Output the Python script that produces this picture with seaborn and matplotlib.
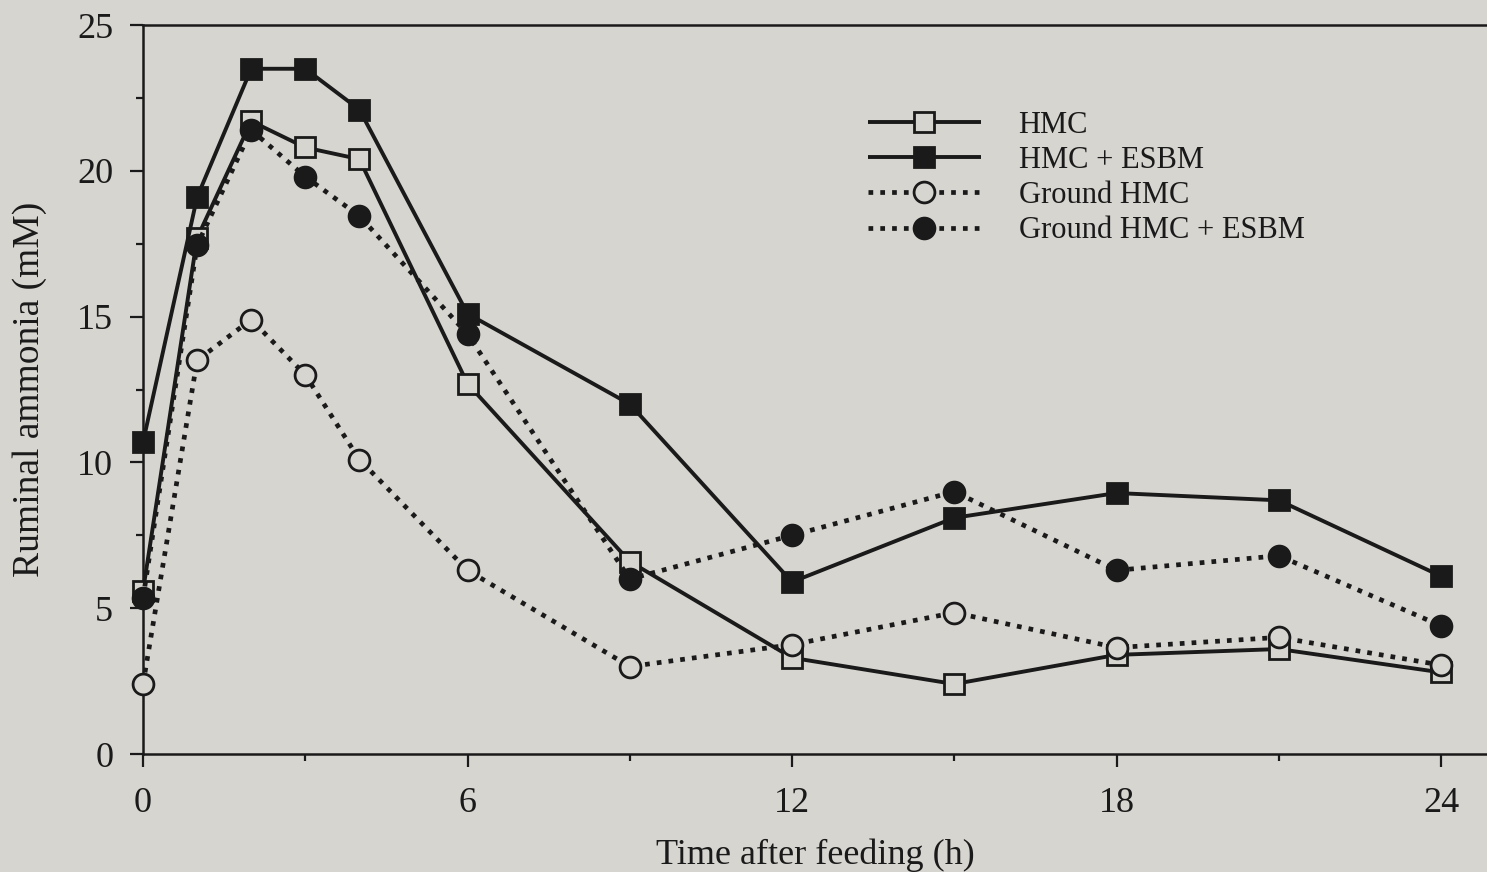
import matplotlib
matplotlib.use("Agg")
import matplotlib.pyplot as plt
import seaborn as sns
import pandas as pd
from matplotlib.ticker import MultipleLocator

# Sampling times (h after feeding)
hours = [0, 1, 2, 3, 4, 6, 9, 12, 15, 18, 21, 24]

# Ruminal ammonia concentrations (mM)
hmc = [5.6, 17.7, 21.7, 20.8, 20.4, 12.7, 6.6, 3.3, 2.4, 3.4, 3.6, 2.8]
hmc_esbm = [10.7, 19.1, 23.5, 23.5, 22.1, 15.1, 12.0, 5.9, 8.1, 8.95, 8.7, 6.1]
ground_hmc = [2.4, 13.5, 14.9, 13.0, 10.1, 6.3, 3.0, 3.75, 4.85, 3.65, 4.0, 3.05]
ground_hmc_esbm = [5.35, 17.45, 21.4, 19.8, 18.45, 14.4, 6.0, 7.5, 9.0, 6.3, 6.8, 4.4]

labels = ["HMC", "HMC + ESBM", "Ground HMC", "Ground HMC + ESBM"]
x_ticks = [0, 6, 12, 18, 24]
y_ticks = [0, 5, 10, 15, 20, 25]

BG = "#d7d5d0"
INK = "#1a1a1a"

sns.set_theme(style="ticks")
plt.rcParams["font.family"] = ["Liberation Serif", "DejaVu Serif"]

df = pd.DataFrame({
    "hours": hours * 4,
    "ammonia": hmc + hmc_esbm + ground_hmc + ground_hmc_esbm,
    "treatment": sum([[lab] * len(hours) for lab in labels], []),
})

fig = plt.figure(figsize=(14.87, 8.72), dpi=100, facecolor=BG)
ax = fig.add_axes([0.0962, 0.1353, 0.9038, 0.836], facecolor=BG)

dotted = (0, (1.0, 1.5))
styles = {
    "HMC": dict(marker="s", face=BG, ls="-", lw=2.8),
    "HMC + ESBM": dict(marker="s", face=INK, ls="-", lw=2.8),
    "Ground HMC": dict(marker="o", face=BG, ls=dotted, lw=3.4),
    "Ground HMC + ESBM": dict(marker="o", face=INK, ls=dotted, lw=3.4),
}

for lab in labels:
    sub = df[df["treatment"] == lab]
    st = styles[lab]
    sns.lineplot(
        data=sub, x="hours", y="ammonia", ax=ax, label=lab,
        color=INK, linewidth=st["lw"], marker=st["marker"],
        markersize=14 if st["marker"] == "s" else 15,
        markerfacecolor=st["face"], markeredgecolor=INK,
        markeredgewidth=2.0, linestyle=st["ls"],
        dash_capstyle="butt", solid_capstyle="butt",
        clip_on=False, zorder=3,
    )

ax.set_xlim(0, 24.85)
ax.set_ylim(0, 25)
ax.set_xticks(x_ticks)
ax.set_yticks(y_ticks)
ax.xaxis.set_minor_locator(MultipleLocator(3))
ax.yaxis.set_minor_locator(MultipleLocator(2.5))

for side in ["left", "bottom", "top"]:
    ax.spines[side].set_linewidth(1.8)
    ax.spines[side].set_color(INK)
ax.spines["right"].set_visible(False)

ax.tick_params(axis="both", which="major", direction="out", length=9.5,
               width=1.6, color=INK, labelsize=26, labelcolor=INK)
ax.tick_params(axis="both", which="minor", direction="out", length=5,
               width=1.6, color=INK)
ax.tick_params(axis="y", which="major", pad=12)
ax.tick_params(axis="x", which="major", pad=14)

ax.set_xlabel("Time after feeding (h)", fontsize=26, color=INK)
ax.xaxis.set_label_coords(0.5, -0.116)
ax.set_ylabel("Ruminal ammonia (mM)", fontsize=27, color=INK, labelpad=22)

leg = ax.legend(loc="upper left", bbox_to_anchor=(0.530, 0.899), frameon=False,
                fontsize=22, handlelength=3.7, handletextpad=1.24,
                labelspacing=0.2, borderaxespad=0)
for txt in leg.get_texts():
    txt.set_color(INK)

fig.savefig("out.png", dpi=100, facecolor=BG)
